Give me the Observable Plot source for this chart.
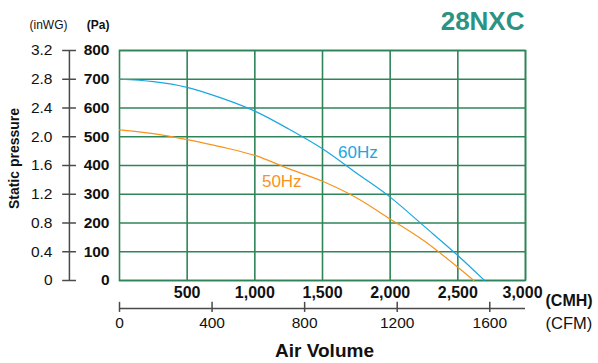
<!DOCTYPE html>
<html>
<head>
<meta charset="utf-8">
<script src="https://cdn.jsdelivr.net/npm/d3@7"></script>
<script src="https://cdn.jsdelivr.net/npm/@observablehq/plot@0.6"></script>
<style>
  html, body { margin: 0; padding: 0; background: #fff; }
  #chart svg { display: block; }
</style>
</head>
<body>
<div id="chart"></div>
<script>
// ---- Data ----
const cmh60 = [0, 250, 500, 750, 1000, 1250, 1500, 1750, 2000, 2250, 2500, 2697];
const pa60  = [700, 692, 672, 635, 589, 527, 458, 374, 290, 189, 87, 0];
const cmh50 = [0, 250, 500, 750, 1000, 1250, 1500, 1750, 2000, 2250, 2500, 2618];
const pa50  = [524, 511, 490, 465, 435, 389, 345, 288, 214, 138, 46, 0];

const cmhTicks  = [500, 1000, 1500, 2000, 2500, 3000];
const cmhLabels = ["500", "1,000", "1,500", "2,000", "2,500", "3,000"];
const cfmTicks  = [0, 400, 800, 1200, 1600];
const cfmLabels = ["0", "400", "800", "1200", "1600"];
const paTicks   = [0, 100, 200, 300, 400, 500, 600, 700, 800];
const paLabels  = ["0", "100", "200", "300", "400", "500", "600", "700", "800"];
const inwgLabels = ["0", "0.4", "0.8", "1.2", "1.6", "2.0", "2.4", "2.8", "3.2"];
const CFM_TO_CMH = 1.71;

const series = [
  ...cmh60.map((x, i) => ({ cmh: x, pa: pa60[i], hz: "60Hz" })),
  ...cmh50.map((x, i) => ({ cmh: x, pa: pa50[i], hz: "50Hz" }))
];
const curveLabels = [
  { cmh: 1762, pa: 446, hz: "60Hz" },
  { cmh: 1199, pa: 345, hz: "50Hz" }
];

const green = "#2f8458";
const blue = "#1aa7e0";
const orange = "#f7931e";
const axisGray = "#4a4a4a";
const colorOf = h => (h === "60Hz" ? blue : orange);

const cmhMain = cmhTicks.slice(0, -1);
const cmhLast = cmhTicks.slice(-1);

const chart = Plot.plot({
  width: 598,
  height: 363,
  marginLeft: 119,
  marginRight: 73,
  marginTop: 50,
  marginBottom: 83,
  x: { domain: [0, 3000], axis: null },
  y: { domain: [0, 800], axis: null },
  style: { fontFamily: "'Liberation Sans', Arial, Helvetica, sans-serif", background: "#fff", color: "#111" },
  marks: [
    // grid + frame
    Plot.gridX({ ticks: cmhTicks, stroke: green, strokeOpacity: 1, strokeWidth: 1.6 }),
    Plot.gridY({ ticks: paTicks, stroke: green, strokeOpacity: 1, strokeWidth: 1.6 }),
    Plot.frame({ stroke: green, strokeWidth: 1.6 }),

    // curves
    Plot.line(series, { x: "cmh", y: "pa", z: "hz", stroke: d => colorOf(d.hz), curve: "monotone-x", strokeWidth: 1.2 }),
    Plot.text(curveLabels, { x: "cmh", y: "pa", text: "hz", fill: d => colorOf(d.hz), fontSize: 17 }),

    // left dual axis
    Plot.ruleX([-370], { y1: 0, y2: 800, stroke: axisGray, strokeWidth: 1.5 }),
    Plot.ruleY(paTicks, { x1: -420, x2: -318, stroke: axisGray, strokeWidth: 1.5 }),
    Plot.text(paTicks, { y: d => d, text: (d, i) => paLabels[i], frameAnchor: "left", dx: -10, textAnchor: "end", fontSize: 15.5, fontWeight: "bold" }),
    Plot.text(paTicks, { y: d => d, text: (d, i) => inwgLabels[i], frameAnchor: "left", dx: -67, textAnchor: "end", fontSize: 15.5 }),
    Plot.text(["(Pa)"], { frameAnchor: "top-left", dx: -10, dy: -25, textAnchor: "end", lineAnchor: "middle", fontSize: 12, fontWeight: "bold" }),
    Plot.text(["(inWG)"], { frameAnchor: "top-left", dx: -71, dy: -25, textAnchor: "middle", lineAnchor: "middle", fontSize: 12 }),
    Plot.text(["Static pressure"], { frameAnchor: "left", dx: -105, dy: -7, rotate: -90, textAnchor: "middle", lineAnchor: "middle", fontSize: 14, fontWeight: "bold" }),

    // bottom CMH labels
    Plot.text(cmhMain, { x: d => d, text: (d, i) => cmhLabels[i], frameAnchor: "bottom", dy: 12, lineAnchor: "middle", fontSize: 16, fontWeight: "bold" }),
    Plot.text(cmhLast, { x: d => d, text: () => cmhLabels[cmhLabels.length - 1], frameAnchor: "bottom", dx: -3, dy: 12, lineAnchor: "middle", fontSize: 16, fontWeight: "bold" }),
    Plot.text(["(CMH)"], { frameAnchor: "bottom-right", dx: 20, dy: 20, textAnchor: "start", lineAnchor: "middle", fontSize: 16, fontWeight: "bold" }),

    // CFM axis
    Plot.ruleY([0], { dy: 28, stroke: axisGray, strokeWidth: 1.5 }),
    Plot.ruleX(cfmTicks, { x: d => d * CFM_TO_CMH, y1: -76, y2: -111, stroke: axisGray, strokeWidth: 1.5 }),
    Plot.text(cfmTicks, { x: d => d * CFM_TO_CMH, text: (d, i) => cfmLabels[i], frameAnchor: "bottom", dy: 43, lineAnchor: "middle", fontSize: 15.5 }),
    Plot.text(["(CFM)"], { frameAnchor: "bottom-right", dx: 20, dy: 43, textAnchor: "start", lineAnchor: "middle", fontSize: 16.5 }),

    Plot.text(["Air Volume"], { frameAnchor: "bottom", dx: 2, dy: 70, lineAnchor: "middle", fontSize: 19, fontWeight: "bold" }),

    // title
    Plot.text(["28NXC"], { frameAnchor: "top-right", dx: -1, dy: -29, textAnchor: "end", lineAnchor: "middle", fontSize: 26, fontWeight: "bold", fill: "#2a9384" })
  ]
});
document.getElementById("chart").appendChild(chart);
</script>
</body>
</html>
